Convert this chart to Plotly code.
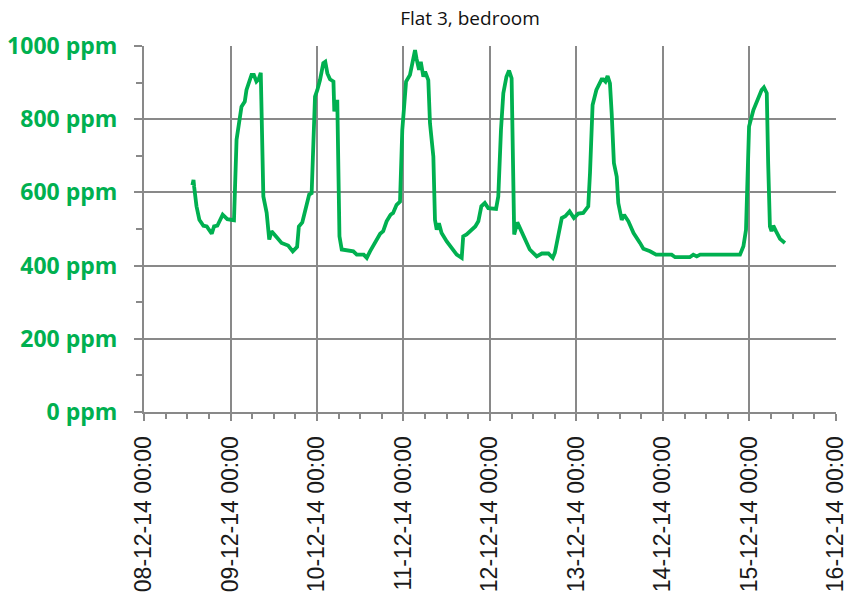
import plotly.graph_objects as go

title_text = "Flat 3, bedroom"

times = [
    "2014-12-08 13:26", "2014-12-08 13:44", "2014-12-08 13:55", "2014-12-08 14:34", "2014-12-08 15:22",
    "2014-12-08 16:29", "2014-12-08 17:25", "2014-12-08 18:48", "2014-12-08 19:26", "2014-12-08 20:21",
    "2014-12-08 21:50", "2014-12-08 23:07", "2014-12-09 00:58", "2014-12-09 01:41", "2014-12-09 03:03",
    "2014-12-09 03:58", "2014-12-09 04:26", "2014-12-09 05:50", "2014-12-09 06:29", "2014-12-09 07:12",
    "2014-12-09 07:48", "2014-12-09 08:24", "2014-12-09 09:07", "2014-12-09 10:02", "2014-12-09 10:45",
    "2014-12-09 11:23", "2014-12-09 12:46", "2014-12-09 14:10", "2014-12-09 16:00", "2014-12-09 17:17",
    "2014-12-09 18:29", "2014-12-09 18:58", "2014-12-09 19:55", "2014-12-09 20:53", "2014-12-09 21:50",
    "2014-12-09 22:31", "2014-12-09 22:58", "2014-12-09 23:27", "2014-12-10 00:06", "2014-12-10 00:50",
    "2014-12-10 01:45", "2014-12-10 02:18", "2014-12-10 02:53", "2014-12-10 03:36", "2014-12-10 04:34",
    "2014-12-10 04:48", "2014-12-10 05:17", "2014-12-10 05:38", "2014-12-10 06:14", "2014-12-10 06:52",
    "2014-12-10 10:05", "2014-12-10 11:02", "2014-12-10 12:58", "2014-12-10 13:49", "2014-12-10 14:43",
    "2014-12-10 17:31", "2014-12-10 18:22", "2014-12-10 19:19", "2014-12-10 20:24", "2014-12-10 21:07",
    "2014-12-10 22:05", "2014-12-10 23:02", "2014-12-10 23:40", "2014-12-11 00:43", "2014-12-11 01:48",
    "2014-12-11 02:33", "2014-12-11 03:12", "2014-12-11 03:36", "2014-12-11 04:19", "2014-12-11 04:48",
    "2014-12-11 05:31", "2014-12-11 06:00", "2014-12-11 06:53", "2014-12-11 07:21", "2014-12-11 08:17",
    "2014-12-11 08:44", "2014-12-11 09:13", "2014-12-11 09:50", "2014-12-11 10:34", "2014-12-11 12:00",
    "2014-12-11 13:22", "2014-12-11 14:46", "2014-12-11 16:09", "2014-12-11 16:34", "2014-12-11 17:31",
    "2014-12-11 18:29", "2014-12-11 19:55", "2014-12-11 20:46", "2014-12-11 21:36", "2014-12-11 22:34",
    "2014-12-11 23:31", "2014-12-12 01:41", "2014-12-12 02:18", "2014-12-12 03:03", "2014-12-12 03:42",
    "2014-12-12 04:34", "2014-12-12 05:17", "2014-12-12 06:00", "2014-12-12 06:29", "2014-12-12 06:43",
    "2014-12-12 07:35", "2014-12-12 09:14", "2014-12-12 11:02", "2014-12-12 12:58", "2014-12-12 14:24",
    "2014-12-12 16:12", "2014-12-12 17:24", "2014-12-12 18:00", "2014-12-12 18:58", "2014-12-12 19:55",
    "2014-12-12 20:53", "2014-12-12 22:05", "2014-12-12 23:17", "2014-12-13 00:29", "2014-12-13 01:52",
    "2014-12-13 03:16", "2014-12-13 03:45", "2014-12-13 04:28", "2014-12-13 05:31", "2014-12-13 06:58",
    "2014-12-13 07:26", "2014-12-13 08:02", "2014-12-13 08:38", "2014-12-13 09:17", "2014-12-13 09:46",
    "2014-12-13 10:23", "2014-12-13 11:10", "2014-12-13 11:36", "2014-12-13 12:33", "2014-12-13 13:12",
    "2014-12-13 14:24", "2014-12-13 15:50", "2014-12-13 17:37", "2014-12-13 18:33", "2014-12-13 20:24",
    "2014-12-13 22:05", "2014-12-14 02:24", "2014-12-14 03:22", "2014-12-14 07:26", "2014-12-14 08:24",
    "2014-12-14 09:22", "2014-12-14 10:19", "2014-12-14 21:22", "2014-12-14 22:19", "2014-12-14 23:02",
    "2014-12-14 23:24", "2014-12-14 23:53", "2014-12-15 01:05", "2014-12-15 02:24", "2014-12-15 03:22",
    "2014-12-15 04:00", "2014-12-15 04:48", "2014-12-15 05:11", "2014-12-15 05:40", "2014-12-15 06:07",
    "2014-12-15 06:36", "2014-12-15 07:21", "2014-12-15 08:28", "2014-12-15 09:50",
]

co2_ppm = [
    620, 634, 615, 562, 525,
    509, 507, 487, 507, 509,
    539, 527, 524, 744, 834,
    848, 880, 921, 921, 903,
    909, 927, 589, 544, 471,
    494, 478, 462, 455, 439,
    451, 507, 518, 553, 594,
    598, 698, 862, 880, 907,
    953, 957, 925, 909, 903,
    821, 848, 848, 480, 444,
    439, 430, 430, 421, 439,
    487, 494, 521, 539, 544,
    566, 575, 771, 903, 921,
    953, 989, 966, 935, 957,
    916, 930, 907, 789, 698,
    525, 498, 516, 489, 466,
    448, 430, 421, 480, 485,
    494, 507, 521, 562, 571,
    557, 555, 589, 771, 871,
    916, 933, 912, 680, 485,
    518, 480, 444, 425, 433,
    433, 421, 435, 489, 530,
    535, 548, 530, 542, 544,
    562, 653, 839, 880, 909,
    909, 903, 918, 898, 816,
    680, 643, 571, 525, 539,
    521, 489, 462, 446, 439,
    430, 430, 423, 423, 430,
    425, 430, 430, 453, 498,
    635, 780, 825, 857, 880,
    887, 871, 680, 507, 494,
    509, 494, 473, 462,
]

x_tickvals = [
    "2014-12-08 00:00", "2014-12-09 00:00", "2014-12-10 00:00", "2014-12-11 00:00", "2014-12-12 00:00",
    "2014-12-13 00:00", "2014-12-14 00:00", "2014-12-15 00:00", "2014-12-16 00:00",
]
x_ticktext = [
    "08-12-14 00:00", "09-12-14 00:00", "10-12-14 00:00", "11-12-14 00:00", "12-12-14 00:00",
    "13-12-14 00:00", "14-12-14 00:00", "15-12-14 00:00", "16-12-14 00:00",
]
y_tickvals = [0, 200, 400, 600, 800, 1000]
y_ticktext = ["0 ppm", "200 ppm", "400 ppm", "600 ppm", "800 ppm", "1000 ppm"]
x_range = ["2014-12-08 00:00", "2014-12-16 00:00:20"]

GREEN = "#00B050"
GRID = "#898989"

fig = go.Figure()
fig.add_trace(go.Scatter(
    x=times, y=co2_ppm, mode="lines",
    line=dict(color=GREEN, width=3.8),
    showlegend=False, hoverinfo="x+y",
))

fig.update_layout(
    width=847, height=597,
    paper_bgcolor="white", plot_bgcolor="white",
    margin=dict(l=144, r=11, t=46, b=185),
    title=dict(text=title_text, x=470 / 847, xanchor="center",
               y=1 - 18 / 597, yanchor="middle", yref="container",
               font=dict(family="Open Sans, Liberation Sans, sans-serif", size=19, color="#111111")),
)

fig.update_xaxes(
    type="date", range=x_range,
    tickmode="array", tickvals=x_tickvals, ticktext=x_ticktext, tickangle=-90,
    tickfont=dict(family="Liberation Sans, Arial, sans-serif", size=23, color="#1a1a1a"),
    showgrid=True, gridcolor=GRID, gridwidth=2,
    showline=True, linecolor=GRID, linewidth=2,
    ticks="outside", ticklen=7, tickwidth=2, tickcolor=GRID,
    minor=dict(dtick=21600000, tick0="2014-12-08", ticks="outside", ticklen=5, tickwidth=1.5,
               tickcolor=GRID, showgrid=False),
    ticklabelstandoff=6,
    ticklabeloverflow="allow",
    automargin=False,
    zeroline=False, fixedrange=True,
)

fig.update_yaxes(
    range=[0, 1000],
    tickvals=y_tickvals, ticktext=y_ticktext,
    tickfont=dict(family="Open Sans, Liberation Sans, sans-serif", size=23, color=GREEN, weight="bold"),
    showgrid=True, gridcolor=GRID, gridwidth=2,
    showline=True, linecolor=GRID, linewidth=2,
    ticks="outside", ticklen=8, tickwidth=2, tickcolor=GRID,
    minor=dict(tickvals=[100, 300, 500, 700, 900], ticks="outside", ticklen=6, tickwidth=1.5,
               tickcolor=GRID, showgrid=False),
    ticklabelstandoff=12,
    automargin=False,
    zeroline=False, fixedrange=True,
)

fig.write_html(
    "out.html",
    config={"displayModeBar": False},
    post_script="document.body.style.margin='0';document.body.style.overflow='hidden';",
)
